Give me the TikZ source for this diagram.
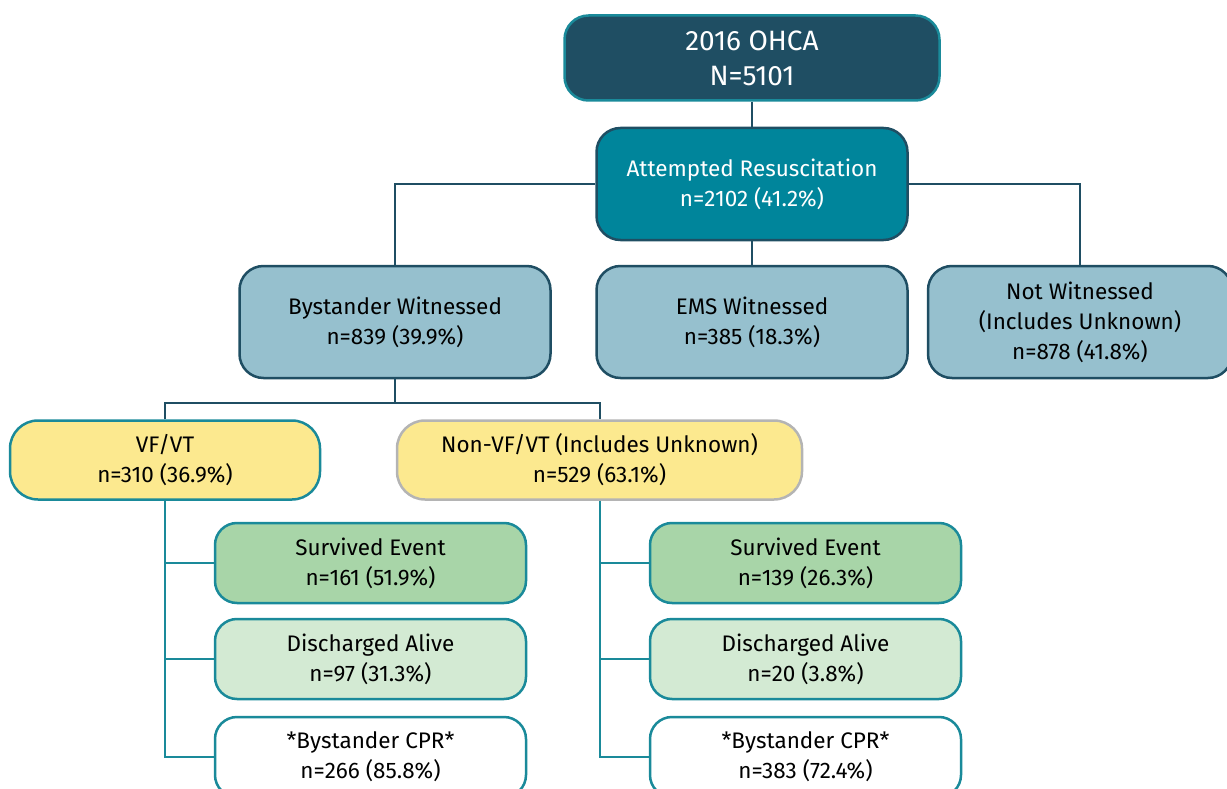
\documentclass[tikz,border=0pt]{standalone}
\usepackage{fontspec}
\setmainfont{Fira Sans}
\definecolor{navy}{RGB}{31,78,99}
\definecolor{teal}{RGB}{0,133,155}
\definecolor{tealline}{RGB}{26,138,154}
\definecolor{skyblue}{RGB}{150,192,206}
\definecolor{sand}{RGB}{252,233,143}
\definecolor{greyline}{RGB}{180,180,180}
\definecolor{leaf}{RGB}{168,213,168}
\definecolor{paleleaf}{RGB}{211,234,211}

\begin{document}
\begin{tikzpicture}[x=1pt,y=-1pt,
	box/.style={draw, rounded corners=24pt, line width=2.5pt, align=center,
		minimum width=311pt, minimum height=112pt, inner sep=0pt,
		font=\fontsize{22.5}{30}\selectfont},
	topbox/.style={box, fill=navy, draw=tealline, text=white, minimum width=375pt,
		minimum height=85pt, font=\fontsize{28}{35}\selectfont},
	attbox/.style={box, fill=teal, draw=navy, text=white},
	witbox/.style={box, fill=skyblue, draw=navy},
	rhybox/.style={box, fill=sand, draw=tealline, minimum height=79pt, rounded corners=28pt},
	outbox/.style={box, draw=tealline, minimum height=80pt, rounded corners=22pt},
	darkline/.style={draw=navy, line width=2pt},
	lightline/.style={draw=tealline, line width=2pt}]
	\useasboundingbox (0,0) rectangle (1227,789);
	\clip (0,0) rectangle (1227,789);
	% top of the tree
	\node[topbox] (ohca) at (752,58) {2016 OHCA\\N=5101};
	\node[attbox] (att) at (752,184) {Attempted Resuscitation\\n=2102 (41.2\%)};
	% who saw the arrest
	\node[witbox] (byst) at (395,322) {Bystander Witnessed\\n=839 (39.9\%)};
	\node[witbox] (ems) at (752,322) {EMS Witnessed\\n=385 (18.3\%)};
	\node[witbox, minimum width=304pt] (notw) at (1080,322) {Not Witnessed\\(Includes Unknown)\\n=878 (41.8\%)};
	% rhythm
	\node[rhybox, minimum width=310pt] (vf) at (165,460) {VF/VT\\n=310 (36.9\%)};
	\node[rhybox, draw=greyline, minimum width=405pt] (nvf) at (599.5,460) {Non-VF/VT (Includes Unknown)\\n=529 (63.1\%)};
	% outcomes
	\node[outbox, fill=leaf] (vsurv) at (370.5,563) {Survived Event\\n=161 (51.9\%)};
	\node[outbox, fill=paleleaf] (vdis) at (370.5,659) {Discharged Alive\\n=97 (31.3\%)};
	\node[outbox, fill=white] (vcpr) at (370.5,757) {*Bystander CPR*\\n=266 (85.8\%)};
	\node[outbox, fill=leaf] (nsurv) at (805.5,563) {Survived Event\\n=139 (26.3\%)};
	\node[outbox, fill=paleleaf] (ndis) at (805.5,659) {Discharged Alive\\n=20 (3.8\%)};
	\node[outbox, fill=white] (ncpr) at (805.5,757) {*Bystander CPR*\\n=383 (72.4\%)};

	\draw[darkline] (ohca.south) -- (att.north);
	\draw[darkline] (att.west) -| (byst.north);
	\draw[darkline] (att.east) -| (notw.north);
	\draw[darkline] (att.south) -- (ems.north);
	\coordinate (bsplit) at (395,403);
	\draw[darkline] (byst.south) -- (bsplit);
	\draw[darkline] (vf.north) |- (bsplit) -| (nvf.north);
	\draw[lightline] (vf.south) |- (vsurv.west);
	\draw[lightline] (vf.south) |- (vdis.west);
	\draw[lightline] (vf.south) |- (vcpr.west);
	\draw[lightline] (nvf.south) |- (nsurv.west);
	\draw[lightline] (nvf.south) |- (ndis.west);
	\draw[lightline] (nvf.south) |- (ncpr.west);
\end{tikzpicture}
\end{document}
